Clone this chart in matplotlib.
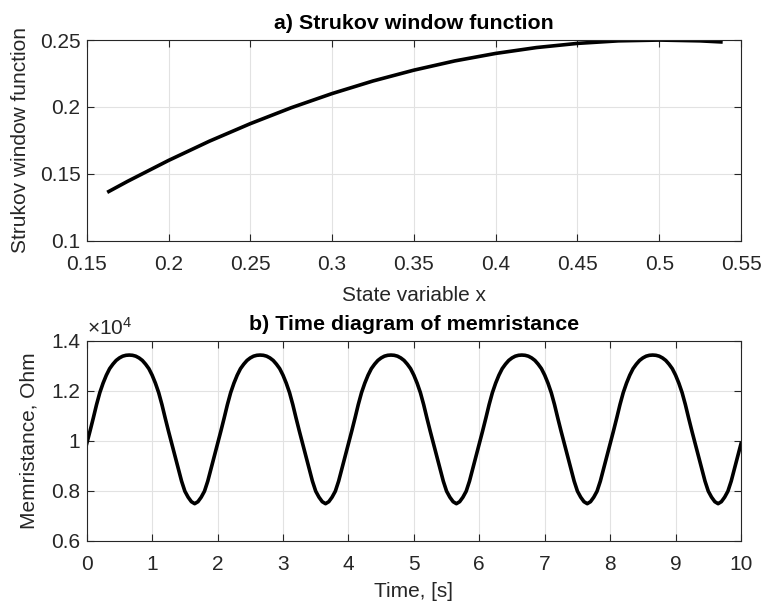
import numpy as np
import matplotlib
matplotlib.use('Agg')
from matplotlib import pyplot as plt
from matplotlib.ticker import FuncFormatter

plt.rcParams['font.family'] = ['Liberation Sans', 'DejaVu Sans']
plt.rcParams['mathtext.fontset'] = 'custom'
plt.rcParams['mathtext.rm'] = 'Liberation Sans'

# window function f(x) against state variable x
state_x = [0.1635, 0.175, 0.2, 0.225, 0.25, 0.275, 0.3, 0.325, 0.35, 0.375,
           0.4, 0.425, 0.45, 0.475, 0.5, 0.525, 0.5377]
window_f = [0.1368, 0.1444, 0.1600, 0.1744, 0.1875, 0.1994, 0.2100, 0.2194,
            0.2275, 0.2344, 0.2400, 0.2444, 0.2475, 0.2494, 0.2500, 0.2494, 0.2486]

# memristance sampled every 0.05 s from 0 to 10 s
time_s = np.arange(201) * 0.05
memristance = [
    9880, 10380, 10900, 11440, 11920, 12300, 12620, 12880, 13060, 13210, 13310, 13380, 13415, 13425,
    13415, 13380, 13310, 13210, 13060, 12880, 12620, 12300, 11920, 11440, 10900, 10380, 9880, 9380, 8880, 8380, 7980, 7740, 7560, 7480,
    7560, 7740, 7980, 8380, 8880, 9380, 9880, 10380, 10900, 11440, 11920, 12300, 12620, 12880, 13060, 13210, 13310, 13380, 13415, 13425,
    13415, 13380, 13310, 13210, 13060, 12880, 12620, 12300, 11920, 11440, 10900, 10380, 9880, 9380, 8880, 8380, 7980, 7740, 7560, 7480,
    7560, 7740, 7980, 8380, 8880, 9380, 9880, 10380, 10900, 11440, 11920, 12300, 12620, 12880, 13060, 13210, 13310, 13380, 13415, 13425,
    13415, 13380, 13310, 13210, 13060, 12880, 12620, 12300, 11920, 11440, 10900, 10380, 9880, 9380, 8880, 8380, 7980, 7740, 7560, 7480,
    7560, 7740, 7980, 8380, 8880, 9380, 9880, 10380, 10900, 11440, 11920, 12300, 12620, 12880, 13060, 13210, 13310, 13380, 13415, 13425,
    13415, 13380, 13310, 13210, 13060, 12880, 12620, 12300, 11920, 11440, 10900, 10380, 9880, 9380, 8880, 8380, 7980, 7740, 7560, 7480,
    7560, 7740, 7980, 8380, 8880, 9380, 9880, 10380, 10900, 11440, 11920, 12300, 12620, 12880, 13060, 13210, 13310, 13380, 13415, 13425,
    13415, 13380, 13310, 13210, 13060, 12880, 12620, 12300, 11920, 11440, 10900, 10380, 9880, 9380, 8880, 8380, 7980, 7740, 7560, 7480,
    7560, 7740, 7980, 8380, 8880, 9380, 9880,
]

xticks_a = [0.15, 0.2, 0.25, 0.3, 0.35, 0.4, 0.45, 0.5, 0.55]
yticks_a = [0.1, 0.15, 0.2, 0.25]
xticks_b = [0, 1, 2, 3, 4, 5, 6, 7, 8, 9, 10]
yticks_b = [6000, 8000, 10000, 12000, 14000]

dark = '#262626'
fs = 15
fmt = FuncFormatter(lambda v, p: '%g' % round(v, 4))


def style(ax):
    ax.grid(True, color='#e2e2e2', lw=0.8)
    ax.set_axisbelow(True)
    for s in ax.spines.values():
        s.set_color(dark)
        s.set_linewidth(0.8)
    ax.tick_params(direction='in', top=True, right=True, length=5, width=0.8,
                   colors=dark, labelsize=fs)
    ax.tick_params(axis='x', pad=10)
    ax.tick_params(axis='y', pad=4.5)


fig = plt.figure(figsize=(7.64, 6.05), dpi=100)

ax1 = fig.add_axes([0.1135, 0.6021, 0.8564, 0.3317])
ax1.plot(state_x, window_f, color='black', lw=2.6)
ax1.set_xlim(0.15, 0.55)
ax1.set_ylim(0.1, 0.25)
ax1.set_xticks(xticks_a)
ax1.set_yticks(yticks_a)
ax1.xaxis.set_major_formatter(fmt)
ax1.yaxis.set_major_formatter(fmt)
style(ax1)
ax1.set_title('a) Strukov window function', fontsize=15.4, fontweight='bold', pad=8)
ax1.set_xlabel('State variable x', fontsize=fs, color=dark)
ax1.set_ylabel('Strukov window function', fontsize=fs, color=dark)
ax1.xaxis.set_label_coords(0.5, -0.226)
ax1.yaxis.set_label_coords(-0.0867, 0.5)

ax2 = fig.add_axes([0.1135, 0.1063, 0.8564, 0.3306])
ax2.plot(time_s, memristance, color='black', lw=2.6)
ax2.set_xlim(0, 10)
ax2.set_ylim(6000, 14000)
ax2.set_xticks(xticks_b)
ax2.set_yticks(yticks_b)
ax2.yaxis.set_major_formatter(FuncFormatter(lambda v, p: '%g' % (v / 1e4)))
style(ax2)
ax2.set_title('b) Time diagram of memristance', fontsize=15.4, fontweight='bold', pad=8)
ax2.set_xlabel('Time, [s]', fontsize=fs, color=dark)
ax2.set_ylabel('Memristance, Ohm', fontsize=fs, color=dark)
ax2.xaxis.set_label_coords(0.5, -0.2065)
ax2.yaxis.set_label_coords(-0.0744, 0.5)
ax2.text(0.0, 1.028, r'$\times\mathregular{10^{4}}$', transform=ax2.transAxes,
         fontsize=fs, color=dark, ha='left', va='baseline')

fig.savefig('out.png', dpi=100)
